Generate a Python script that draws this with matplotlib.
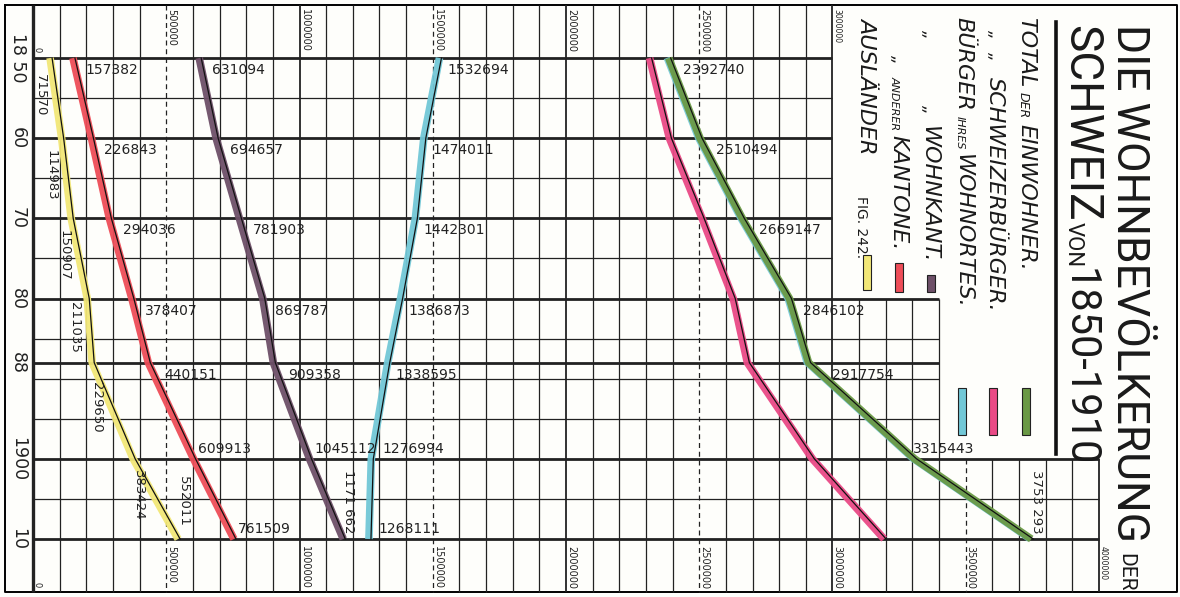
import numpy as np
import matplotlib
matplotlib.use("Agg")
import matplotlib.pyplot as plt
from matplotlib.transforms import offset_copy
from matplotlib.patches import Rectangle

# data (Wohnbevoelkerung der Schweiz 1850-1910)
years = [1850, 1860, 1870, 1880, 1888, 1900, 1910]
year_labels = ["18 50", "60", "70", "80", "88", "1900", "10"]
total = [2392740, 2510494, 2669147, 2846102, 2917754, 3315443, 3753293]
schweizer = [2321170, 2395511, 2518240, 2635067, 2688104, 2932019, 3201282]
wohnort = [1532694, 1474011, 1442301, 1386873, 1338595, 1276994, 1268111]
wohnkanton = [631094, 694657, 781903, 869787, 909358, 1045112, 1171662]
andere_kantone = [157382, 226843, 294036, 378407, 440151, 609913, 761509]
auslaender = [71570, 114983, 150907, 211035, 229650, 383424, 552011]

top_ticks = [500000, 1000000, 1500000, 2000000, 2500000, 3000000]
bottom_ticks = [500000, 1000000, 1500000, 2000000, 2500000, 3000000, 3500000, 4000000]
minor_years = [1855, 1865, 1875, 1885, 1890, 1895, 1905]

YELLOW = "#f2e777"
RED = "#ee4d58"
PURPLE = "#6e5068"
CYAN = "#72c8d7"
PINK = "#e94a86"
GREEN = "#6a9945"

W, H = 1180, 597
fig = plt.figure(figsize=(W / 100, H / 100), dpi=100, facecolor="#fefefb")
ax = fig.add_axes([0, 0, 1, 1])
ax.set_axis_off()
renderer = fig.canvas.get_renderer()

# pixel calibration of the sheet
X0, KX = 33, 266.5e-6
Y0, KY = 58, 8.017


def px(x, y):
    return (x - X0) / KX, 1850 + (y - Y0) / KY


ax.set_xlim(px(0, 0)[0], px(W, 0)[0])
ax.set_ylim(px(0, H)[1], px(0, 0)[1])

fl, ft = px(5, 5)
fr, fb = px(1177, 592)
ax.plot([fl, fr, fr, fl, fl], [ft, ft, fb, fb, ft], color="k", lw=1.4)

# vertical grid
for v in range(0, 4000001, 100000):
    if v <= 3000000:
        top = ft
    elif v <= 3400000:
        top = 1880
    else:
        top = 1900
    ls = (0, (4, 3)) if v % 1000000 == 500000 else "-"
    lw = 2.4 if v == 0 else (1.3 if v % 1000000 == 0 else 0.9)
    ax.vlines(v, top, fb, color="#222", lw=lw, linestyles=[ls])

# horizontal grid
for yr in sorted(years + minor_years):
    right = 3000000 if yr < 1880 else (3400000 if yr < 1900 else 4000000)
    ax.hlines(yr, 0, right, color="#222", lw=2.0 if yr in years else 0.9)

# year labels
for yr, lab in zip(years, year_labels):
    ax.text(px(18, 0)[0], yr, lab, rotation=-90, ha="center", va="center",
            fontsize=12.5, color="#222")

# population tick labels
for v in top_ticks:
    ax.text(v + 2 / KX, px(0, 9)[1], f"{v}", rotation=-90, rotation_mode="anchor",
            ha="left", va="baseline", fontsize=7 if v < 3000000 else 5.5, color="#222")
for v in bottom_ticks:
    ax.text(v + 2 / KX, px(0, 546)[1], f"{v}", rotation=-90, rotation_mode="anchor",
            ha="left", va="baseline", fontsize=7 if v < 4000000 else 5.5, color="#222")
for yy in (47, 582):
    ax.text(px(35, 0)[0], px(0, yy)[1], "0", rotation=-90, rotation_mode="anchor",
            ha="left", va="baseline", fontsize=6, color="#222")

band = offset_copy(ax.transData, fig=fig, x=-2, y=0, units="dots")
band2 = offset_copy(ax.transData, fig=fig, x=-4, y=0, units="dots")

series = [
    (schweizer, PINK, [None] * 7),
    (total, GREEN, ["below"] * 5 + ["above", "vend"]),
    (wohnort, CYAN, ["below"] * 5 + ["above", "above"]),
    (wohnkanton, PURPLE, ["below"] * 5 + ["above", "vend"]),
    (andere_kantone, RED, ["below"] * 5 + ["above", "above"]),
    (auslaender, YELLOW, ["vmid"] * 6 + ["vend"]),
]

for vals, col, modes in series:
    if col == GREEN:
        ax.plot(vals, years, color=CYAN, lw=4.5, transform=band2,
                solid_capstyle="butt", alpha=0.9)
    ax.plot(vals, years, color=col, lw=5.5, transform=band, solid_capstyle="butt", alpha=0.95)
    ax.plot(vals, years, color="#111", lw=0.9)
    for i, mode in enumerate(modes):
        if mode is None:
            continue
        s = f"{vals[i]}"
        if mode == "below":
            ly = years[i] + 1.5
            lx = np.interp(ly, years, vals) + 8 / KX
            ax.text(lx, ly, s, ha="left", va="center", fontsize=10, color="#222")
        elif mode == "above":
            ly = years[i] - 1.25
            lx = np.interp(ly, years, vals) + 7 / KX
            ax.text(lx, ly, s, ha="left", va="center", fontsize=10, color="#222")
        elif mode == "vmid":
            ly = (years[i] + years[i + 1]) / 2 - 0.4
            lx = np.interp(ly, years, vals) - 17 / KX
            ax.text(lx, ly, s, rotation=-90, ha="center", va="center",
                    fontsize=9.5, color="#222")
        else:
            ly = years[i] - 4.7
            lx = vals[i] + 3 / KX
            s = s[:-3] + " " + s[-3:] if len(s) == 7 else s
            ax.text(lx, ly, s, rotation=-90, ha="center", va="center",
                    fontsize=9.5, color="#222")


def vtext(x, y, s, size, **kw):
    return ax.text(*px(x, y), s, rotation=-90, rotation_mode="anchor", ha="left",
                   va="baseline", fontsize=size, color="#1a1a1a", **kw)


def vseq(xb, pieces, gap=5, **kw):
    y = 0
    for s, y_fixed, size in pieces:
        if y_fixed is not None:
            y = y_fixed
        t = vtext(xb, y, s, size, **kw)
        y += t.get_window_extent(renderer).height + gap


# title
tkw = dict(family="Roboto", fontweight="normal")
vtext(1117, 24, "DIE WOHNBEVÖLKERUNG", 32, **tkw)
vtext(1120, 553, "DER", 15, **tkw)
vtext(1068, 25, "SCHWEIZ", 33, **tkw)
vtext(1068, 222, "VON", 16, **tkw)
vtext(1068, 268, "1850-1910", 30, **tkw)
ax.plot(*zip(px(1056, 22), px(1056, 454)), color="#111", lw=2.6)

# legend
lkw = dict(family="DejaVu Sans", style="italic")
legend_rows = [
    (1020, [("TOTAL", 17, 16), ("DER", None, 9), ("EINWOHNER.", None, 16)]),
    (989, [("„", 30, 12), ("„", 52, 12), ("SCHWEIZERBÜRGER.", 77, 16)]),
    (957, [("BÜRGER", 17, 16), ("IHRES", None, 8), ("WOHNORTES.", None, 16)]),
    (923, [("„", 30, 12), ("„", 105, 12), ("WOHNKANT.", 126, 16)]),
    (892, [("„", 55, 12), ("ANDERER", 76, 8), ("KANTONE.", None, 16)]),
    (861, [("AUSLÄNDER", 17, 16)]),
]
for xb, pieces in legend_rows:
    vseq(xb, pieces, **lkw)
vtext(857, 196, "FIG. 242.", 10, family="DejaVu Sans")

swatches = [
    (YELLOW, 863, 255, 290),
    (RED, 895, 263, 292),
    (PURPLE, 927, 275, 292),
    (CYAN, 958, 388, 435),
    (PINK, 989, 388, 435),
    (GREEN, 1022, 388, 435),
]
for col, x, y0, y1 in swatches:
    (ax0, ay0), (ax1, ay1) = px(x, y0), px(x + 8, y1)
    ax.add_patch(Rectangle((ax0, ay0), ax1 - ax0, ay1 - ay0, facecolor=col,
                           edgecolor="#222", lw=0.8))

fig.savefig("out.png", dpi=100, facecolor=fig.get_facecolor())
